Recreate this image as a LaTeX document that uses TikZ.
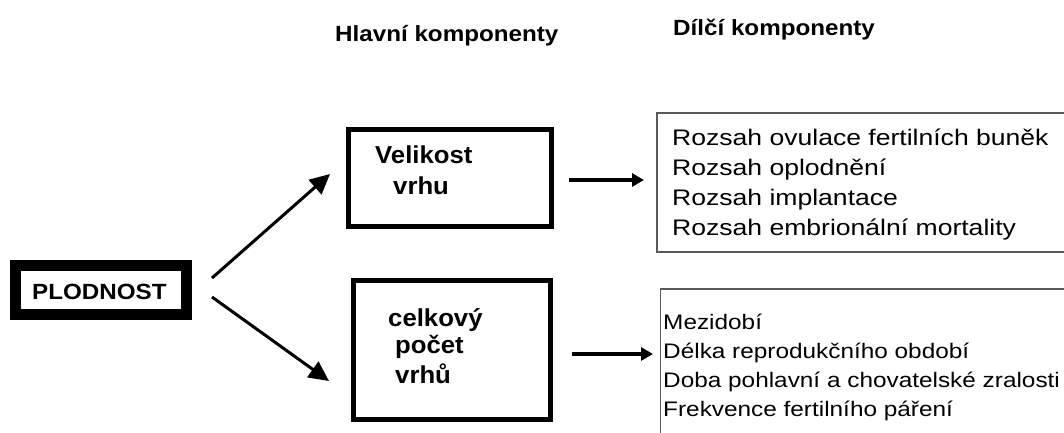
\documentclass[tikz,border=0pt]{standalone}
\usepackage{fontspec}
\setmainfont{Liberation Sans}
\newfontfamily\headfont[FakeStretch=1.1]{Liberation Sans}
\newfontfamily\boxfont[FakeStretch=1.05]{Liberation Sans}
\newfontfamily\listafont[FakeStretch=1.18]{Liberation Sans}
\newfontfamily\listbfont[FakeStretch=1.16]{Liberation Sans}
\usetikzlibrary{arrows.meta}
\newcommand{\plodc}[0]{(101, 290)}
\newcommand{\velikc}[0]{(450, 178)}
\newcommand{\pocetc}[0]{(452, 350)}
\newcommand{\dilcic}[0]{(866, 182.5)}
\newcommand{\dilcid}[0]{(868, 367)}
\tikzset{
  thickbox/.style={draw, line width=11pt, minimum width=171pt, minimum height=49pt, inner sep=0pt},
  mainbox/.style={draw, line width=5pt, inner sep=0pt},
  listbox/.style={draw=black!65, line width=1.5pt, inner sep=0pt},
  txt/.style={anchor=base west, inner sep=0pt},
  bigarr/.style={line width=3pt, -{Triangle[length=20pt,width=19pt]}},
  smallarr/.style={line width=3.5pt, -{Triangle[length=12pt,width=13pt]}},
}
\begin{document}
\begin{tikzpicture}[x=1pt, y=-1pt]
\useasboundingbox (0,0) rectangle (1064,432);
% headings
\node[txt] (hlavni) at (335, 41) {\headfont\bfseries\fontsize{22}{26}\selectfont Hlavní komponenty};
\node[txt] (dilci) at (673, 35) {\headfont\bfseries\fontsize{22}{26}\selectfont Dílčí komponenty};
% boxes
\node[thickbox] (plod) at \plodc{} {};
\node[mainbox, minimum width=203pt, minimum height=97pt] (velik) at \velikc{} {};
\node[mainbox, minimum width=197pt, minimum height=139pt] (pocet) at \pocetc{} {};
\node[listbox, minimum width=418pt, minimum height=139pt] (dilci1) at \dilcic{} {};
\node[listbox, minimum width=415pt, minimum height=156pt] (dilci2) at \dilcid{} {};
% box texts
\node[txt] (plodtxt) at (32, 299) {\headfont\bfseries\fontsize{22}{26}\selectfont PLODNOST};
\node[txt] (veltxt) at (375, 163) {\boxfont\bfseries\fontsize{24.5}{29}\selectfont Velikost};
\node[txt] (vrhtxt) at (393, 194) {\boxfont\bfseries\fontsize{24.5}{29}\selectfont vrhu};
\node[txt] (celtxt) at (388, 326) {\boxfont\bfseries\fontsize{24.5}{29}\selectfont celkový};
\node[txt] (poctxt) at (395, 353) {\boxfont\bfseries\fontsize{24.5}{29}\selectfont počet};
\node[txt] (vrhutxt) at (395, 383) {\boxfont\bfseries\fontsize{24.5}{29}\selectfont vrhů};
% lists
\node[txt] (a1) at (672, 145) {\listafont\fontsize{22.5}{27}\selectfont Rozsah ovulace fertilních buněk};
\node[txt] (a2) at (672, 175) {\listafont\fontsize{22.5}{27}\selectfont Rozsah oplodnění};
\node[txt] (a3) at (672, 205) {\listafont\fontsize{22.5}{27}\selectfont Rozsah implantace};
\node[txt] (a4) at (672, 235) {\listafont\fontsize{22.5}{27}\selectfont Rozsah embrionální mortality};
\node[txt] (b1) at (663, 329) {\listbfont\fontsize{21}{25}\selectfont Mezidobí};
\node[txt] (b2) at (663, 358) {\listbfont\fontsize{21}{25}\selectfont Délka reprodukčního období};
\node[txt] (b3) at (663, 387) {\listbfont\fontsize{21}{25}\selectfont Doba pohlavní a chovatelské zralosti};
\node[txt] (b4) at (663, 416) {\listbfont\fontsize{21}{25}\selectfont Frekvence fertilního páření};
% connectors
\coordinate (plodup) at (212, 278);
\coordinate (ploddn) at (212, 297);
\coordinate (velin) at (330, 174);
\coordinate (pocin) at (329, 381);
\coordinate (velout) at (569, 180);
\coordinate (dilin) at (644, 180);
\coordinate (pocout) at (572, 354);
\coordinate (dilin2) at (653, 354);
\draw[bigarr] (plodup) -- (velin);
\draw[bigarr] (ploddn) -- (pocin);
\draw[smallarr] (velout) -- (dilin);
\draw[smallarr] (pocout) -- (dilin2);
\end{tikzpicture}
\end{document}
